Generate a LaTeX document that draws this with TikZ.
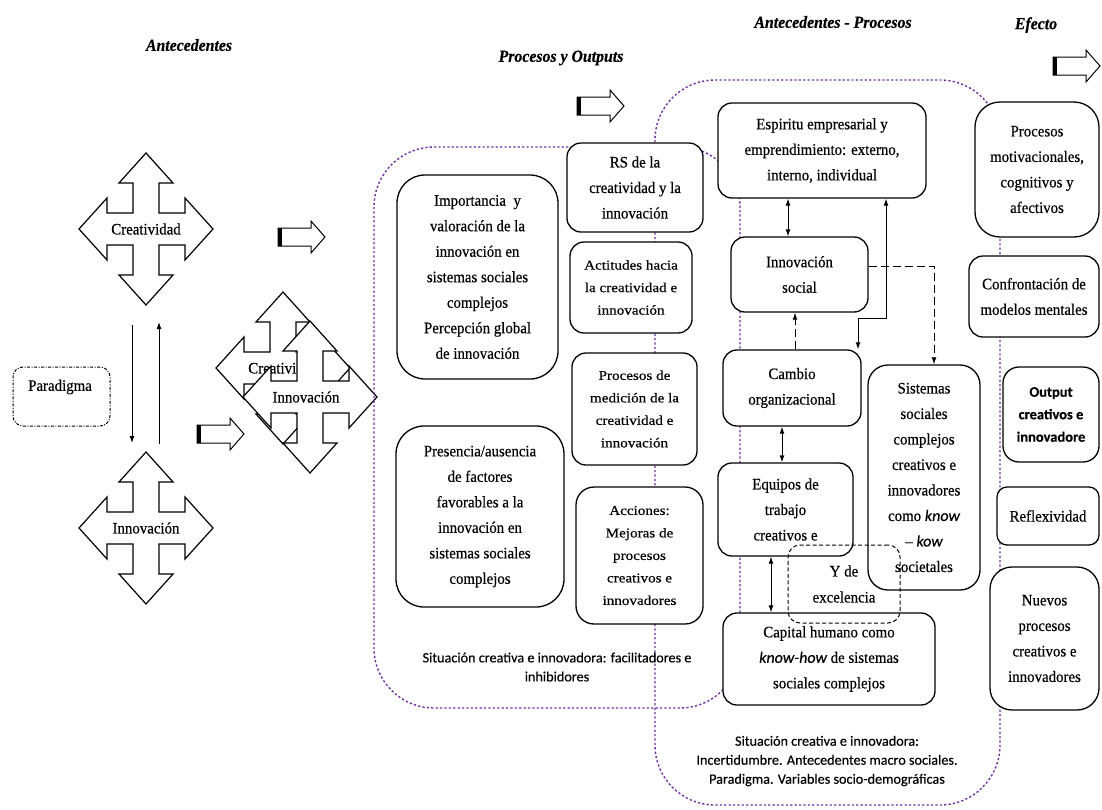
\documentclass[tikz,border=0pt]{standalone}
\usepackage{fontspec}
\setmainfont{Liberation Serif}[FakeStretch=0.93, FakeBold=0.4]
\newfontfamily\smallserif{Liberation Serif}[FakeStretch=1.12, FakeBold=0.4]
\newfontfamily\sansf{Carlito}[FakeBold=0.3]
\usetikzlibrary{arrows.meta,calc}
\definecolor{regionpurple}{HTML}{7030A0}

\tikzset{
  box/.style={draw, fill=white, line width=1.3pt, rounded corners=14pt, align=center,
    inner sep=1pt, font={\fontsize{16}{25.5}\selectfont}},
  smallbox/.style={box, font={\smallserif\fontsize{13.5}{22.5}\selectfont}},
  region/.style={draw=regionpurple, line width=1.4pt, dash pattern=on 2.2pt off 2.2pt,
    rounded corners=60pt},
  title/.style={font={\fontsize{17}{20}\selectfont\bfseries\itshape}},
  note/.style={font={\sansf\fontsize{14.2}{19}\selectfont}, align=center},
  tip/.style={-{Latex[length=7pt,width=5pt]}},
  link/.style={line width=1pt, tip},
  dlink/.style={line width=1pt, {Latex[length=7pt,width=5pt]}-{Latex[length=7pt,width=5pt]}},
  quadarrow/.pic={
    \draw[fill=white, line width=1.2pt]
      (0,-76) -- (27,-46) -- (13,-46) -- (13,-16) -- (39,-16) -- (39,-31) -- (67,0)
      -- (39,31) -- (39,16) -- (13,16) -- (13,46) -- (27,46) -- (0,76)
      -- (-27,46) -- (-13,46) -- (-13,16) -- (-39,16) -- (-39,31) -- (-67,0)
      -- (-39,-31) -- (-39,-16) -- (-13,-16) -- (-13,-46) -- (-27,-46) -- cycle;
  },
  blockarrow/.pic={
    \draw[fill=white, line width=1pt]
      (0,-9) -- (33,-9) -- (33,-16) -- (47,0) -- (33,16) -- (33,9) -- (0,9) -- cycle;
    \fill (0,-9) rectangle (4,9);
  },
}

\begin{document}
\begin{tikzpicture}[x=1pt, y=-1pt]
\useasboundingbox (0,0) rectangle (1102,809);
\fill[white] (0,0) rectangle (1102,809);

% column headings
\node[title] (t1) at (189,45) {Antecedentes};
\node[title] (t2) at (561,58) {Procesos y Outputs};
\node[title] (t3) at (833,22) {Antecedentes - Procesos};
\node[title] (t4) at (1036,25) {Efecto};

% flow arrows
\pic at (577,106) {blockarrow};
\pic at (278,237) {blockarrow};
\pic at (197,434) {blockarrow};
\pic at (1053,66) {blockarrow};

% antecedents: creativity and innovation
\pic at (146,229) {quadarrow};
\node[font={\fontsize{16}{20}\selectfont}] (creat) at (146,229) {Creatividad};
\pic at (146,528) {quadarrow};
\node[font={\fontsize{16}{20}\selectfont}] (innov) at (146,528) {Innovación};

\coordinate (c1) at (132,325);
\coordinate (c2) at (132,443);
\coordinate (c3) at (159,444);
\coordinate (c4) at (159,322);
\draw[link] (c1) -- (c2);
\draw[link] (c3) -- (c4);

\node[draw, rounded corners=10pt, line width=1pt,
  dash pattern=on 3pt off 1.5pt on 1pt off 1.5pt,
  minimum width=97pt, minimum height=59pt] (parbox) at (61.5,396.5) {};
\node[font={\fontsize{16}{20}\selectfont}] (par) at (60,387) {Paradigma};

% overlapping pair
\pic at (283,368) {quadarrow};
\node[font={\fontsize{16}{20}\selectfont}] (creat2) at (283,368) {Creatividad};
\pic at (310,397) {quadarrow};
\node[font={\fontsize{16}{20}\selectfont}] (innov2) at (306,397) {Innovación};

% dotted regions
\draw[region] (374,147) rectangle (740,708);
\draw[region] (655,80) rectangle (1000,805);

% processes and outputs
\node[box, rounded corners=28pt, minimum width=161pt, minimum height=204pt] (imp) at (477.5,277)
  {Importancia\ \ y\\valoración de la\\innovación en\\sistemas sociales\\complejos\\Percepción global\\de innovación};
\node[box, rounded corners=28pt, minimum width=168pt, minimum height=181pt] (pre) at (480,516.5)
  {Presencia/ausencia\\de factores\\favorables a la\\innovación en\\sistemas sociales\\complejos};
\node[box, minimum width=136pt, minimum height=89pt] (rs) at (635,187.5)
  {RS de la\\creatividad y la\\innovación};
\node[smallbox, minimum width=122pt, minimum height=91pt] (act) at (631,287.5)
  {Actitudes hacia\\la creatividad e\\innovación};
\node[smallbox, minimum width=125pt, minimum height=112pt] (med) at (634.5,409)
  {Procesos de\\medición de la\\creatividad e\\innovación};
\node[smallbox, rounded corners=18pt, minimum width=127pt, minimum height=137pt] (acc) at (639.5,555.5)
  {Acciones:\\Mejoras de\\procesos\\creativos e\\innovadores};
\node[note] (n1) at (557,667) {Situación creativa e innovadora: facilitadores e\\inhibidores};

% antecedents and processes
\node[box, minimum width=208pt, minimum height=95pt] (esp) at (822,150.5)
  {Espiritu empresarial y\\emprendimiento: externo,\\interno, individual};
\node[box, minimum width=137pt, minimum height=75pt] (soc) at (799.5,274.5)
  {Innovación\\social};
\node[box, minimum width=138pt, minimum height=76pt] (cam) at (792,388)
  {Cambio\\organizacional};
\node[box, rounded corners=20pt, minimum width=112pt, minimum height=225pt] (sis) at (924,477.5)
  {Sistemas\\sociales\\complejos\\creativos e\\innovadores\\como {\sansf\itshape know}\\-- {\sansf\itshape kow}\\societales};
\node[box, minimum width=135pt, minimum height=93pt] (equ) at (785.5,509.5)
  {Equipos de\\trabajo\\creativos e};
\node[box, minimum width=212pt, minimum height=92pt] (cap) at (829,659)
  {Capital humano como\\{\sansf\itshape know-how} de sistemas\\sociales complejos};
\node[note] (n2) at (827,761)
  {Situación creativa e innovadora:\\Incertidumbre. Antecedentes macro sociales.\\Paradigma. Variables socio-demográficas};

\draw[dlink] (esp.south -| 788,0) -- (soc.north -| 788,0);
\draw[dlink] (cam.north -| 858,0) |- (886,318) -- (esp.south -| 886,0);
\draw[line width=1pt, dash pattern=on 8pt off 4pt, tip] (cam.north -| 795,0) -- (soc.south -| 795,0);
\draw[line width=1pt, dash pattern=on 8pt off 4pt, tip] (soc.east |- 0,266) -| (sis.north -| 934,0);
\draw[dlink] (cam.south -| 782,0) -- (equ.north -| 782,0);
\draw[dlink] (equ.south -| 771,0) -- (cap.north -| 771,0);

\node[draw, dash pattern=on 4pt off 2.5pt, rounded corners=12pt, line width=1pt, align=center,
  minimum width=112pt, minimum height=78pt, font={\fontsize{16}{26}\selectfont}] (exc) at (844,584)
  {Y de\\excelencia};

% effect
\node[box, rounded corners=25pt, minimum width=124pt, minimum height=135pt] (mot) at (1037,169.5)
  {Procesos\\motivacionales,\\cognitivos y\\afectivos};
\node[box, minimum width=130pt, minimum height=81pt] (con) at (1034,296.5)
  {Confrontación de\\modelos mentales};
\node[box, rounded corners=16pt, minimum width=96pt, minimum height=95pt,
  font={\sansf\bfseries\fontsize{14.5}{22.5}\selectfont}] (out) at (1051,414.5)
  {Output\\creativos e\\innovadore};
\node[box, rounded corners=10pt, minimum width=102pt, minimum height=58pt] (ref) at (1048,516)
  {Reflexividad};
\node[box, rounded corners=22pt, minimum width=109pt, minimum height=143pt] (nue) at (1044.5,638.5)
  {Nuevos\\procesos\\creativos e\\innovadores};
\end{tikzpicture}
\end{document}
